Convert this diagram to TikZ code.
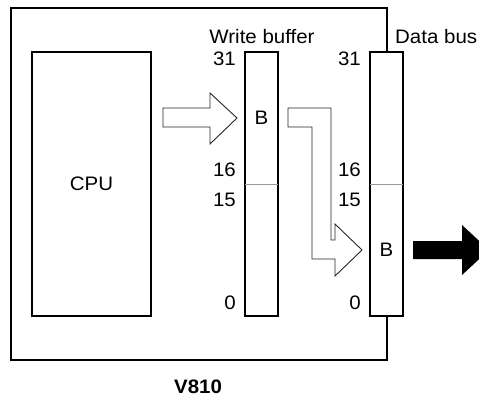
\documentclass[tikz,border=0pt]{standalone}
\usepackage{fontspec}
\setmainfont{Liberation Sans}
\newfontfamily\diafont[FakeStretch=1.05]{Liberation Sans}
\usetikzlibrary{positioning}

\begin{document}
\begin{tikzpicture}[
    x=1pt, y=-1pt,
    font=\diafont\fontsize{19.5}{22}\selectfont,
    blk/.style={rectangle, draw, line width=2pt, fill=white, inner sep=0pt},
    reg/.style={blk, minimum width=33pt, minimum height=264pt},
    bitno/.style={anchor=east, inner sep=0pt},
    split/.style={gray!80, line width=0.8pt, shorten <=1pt, shorten >=1pt},
    hollow/.style={draw=black!85, fill=white, line width=0.9pt, line join=miter},
  ]
  \useasboundingbox (0,0) rectangle (479,400);
  \clip (0,0) rectangle (479,400);

  \node[blk, fill=none, minimum width=376pt, minimum height=352pt] (chip) at (199,184) {};
  \node (chipname) at (198,387) {\bfseries V810};

  \node[blk, minimum width=119pt, minimum height=264pt] (cpu) at (91.5,184) {CPU};
  \node[reg] (wbuf) at (261.5,184) {};
  \node[reg] (dbus) at (386.5,184) {};

  \node[anchor=base, inner sep=0pt] (wblabel) at (262,43.5) {Write buffer};
  \node[anchor=base west, inner sep=0pt] (dblabel) at (395,43.5) {Data bus};

  \foreach \r in {wbuf,dbus} {
    \draw[split] (\r.west) -- (\r.east);
    \node[bitno] (\r-31) at ([xshift=-8pt,yshift=-8pt]\r.north west) {31};
    \node[bitno] (\r-16) at ([xshift=-8pt,yshift=14pt]\r.west) {16};
    \node[bitno] (\r-15) at ([xshift=-8pt,yshift=-16pt]\r.west) {15};
    \node[bitno] (\r-0)  at ([xshift=-8pt,yshift=14pt]\r.south west) {0};
  }
  \node (wbufB) at ([yshift=66pt]wbuf.center) {B};
  \node (dbusB) at ([yshift=-66pt]dbus.center) {B};

  % cpu -> write buffer
  \draw[hollow] (163,108) -- (210,108) -- (210,93) -- (237,118) -- (210,144)
    -- (210,127) -- (163,127) -- cycle;
  % write buffer -> data bus
  \draw[hollow] (288,108) -- (331,108) -- (331,240) -- (335,240) -- (335,224)
    -- (362,250) -- (335,276) -- (335,259) -- (312,259) -- (312,127)
    -- (288,127) -- cycle;
  % out of the chip
  \fill (413,241) -- (462,241) -- (462,225) -- (489,250) -- (462,275)
    -- (462,259) -- (413,259) -- cycle;
\end{tikzpicture}
\end{document}
